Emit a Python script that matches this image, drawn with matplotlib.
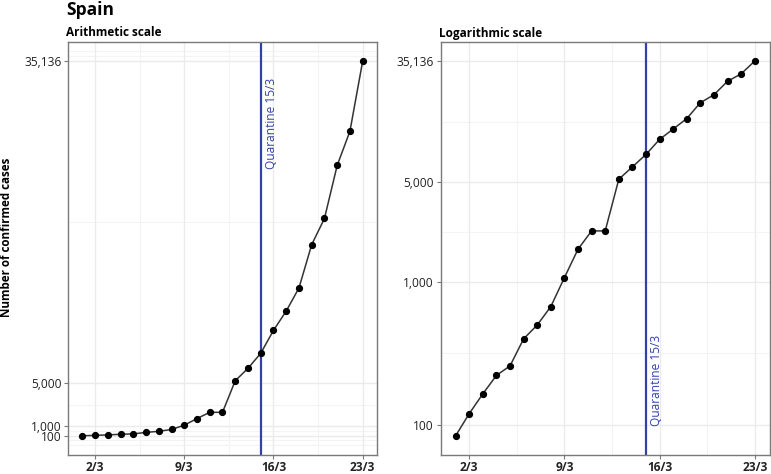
import matplotlib
matplotlib.use("Agg")
import matplotlib.pyplot as plt
import numpy as np

# ---- data ----
days = list(range(1, 24))  # 1/3 .. 23/3
cases = [84, 120, 165, 222, 259, 400, 500, 673, 1073, 1695, 2277, 2277,
         5232, 6391, 7798, 9942, 11748, 13910, 17963, 20410, 25374, 28572, 35136]
x_ticks = [2, 9, 16, 23]
x_ticklabels = ["2/3", "9/3", "16/3", "23/3"]
y_ticks = [100, 1000, 5000, 35136]
y_ticklabels = ["100", "1,000", "5,000", "35,136"]
quarantine_day = 15
quarantine_label = "Quarantine 15/3"

plt.rcParams['font.family'] = ['Open Sans', 'DejaVu Sans']

W, H = 771, 474
fig = plt.figure(figsize=(W / 100, H / 100), dpi=100)

def px_axes(l, t, r, b):
    return fig.add_axes([l / W, 1 - b / H, (r - l) / W, (b - t) / H])

BLUE = '#3340a8'
GRID = '#ebebeb'
GRID_MINOR = '#f4f4f4'
BORDER = '#7a7a7a'

def style(ax):
    for s in ax.spines.values():
        s.set_color(BORDER)
        s.set_linewidth(1.0)
    ax.tick_params(axis='both', length=3, width=0.8, color=BORDER,
                   labelcolor='#222222', pad=2)
    ax.tick_params(axis='y', labelsize=8.6)
    ax.tick_params(axis='x', labelsize=8.6, pad=1.5)
    for lab in ax.get_xticklabels():
        lab.set_fontweight('bold')
    ax.set_axisbelow(True)

xr = (min(days), max(days))
xpad = 0.05 * (xr[1] - xr[0])
xlim = (xr[0] - xpad, xr[1] + xpad)
x_minor = [5.5, 12.5, 19.5]

# ---- arithmetic panel ----
ax1 = px_axes(68.3, 42.3, 376.7, 454.5)
yr = (min(cases), max(cases))
ypad = 0.05 * (yr[1] - yr[0])
ax1.set_xlim(*xlim)
ax1.set_ylim(yr[0] - ypad, yr[1] + ypad)
bd = y_ticks[1] - y_ticks[0]
ext = [y_ticks[0] - bd] + y_ticks + [y_ticks[-1] + bd]
minor_y1 = ext + [(a + b) / 2 for a, b in zip(ext[:-1], ext[1:])]
for v in minor_y1:
    ax1.axhline(v, color=GRID_MINOR, lw=0.8, zorder=0)
for v in x_minor:
    ax1.axvline(v, color=GRID_MINOR, lw=0.8, zorder=0)
for v in y_ticks:
    ax1.axhline(v, color=GRID, lw=1.0, zorder=0)
for v in x_ticks:
    ax1.axvline(v, color=GRID, lw=1.0, zorder=0)
ax1.plot(days, cases, color='#333333', lw=1.1, marker='o', ms=4.2,
         mfc='black', mec='black', zorder=3)
ax1.axvline(quarantine_day, color=BLUE, lw=1.6, zorder=2)
ax1.text(quarantine_day + 0.87, 33600, quarantine_label, rotation=90,
         ha='center', va='top', color=BLUE, fontsize=8.6)
ax1.set_xticks(x_ticks)
ax1.set_xticklabels(x_ticklabels)
ax1.set_yticks(y_ticks)
ax1.set_yticklabels(y_ticklabels)
style(ax1)

# ---- logarithmic panel ----
ax2 = px_axes(440.7, 42.3, 769.7, 454.5)
ax2.set_yscale('log')
lo, hi = np.log10(min(cases)), np.log10(max(cases))
lpad = 0.05 * (hi - lo)
ax2.set_xlim(*xlim)
ax2.set_ylim(10 ** (lo - lpad), 10 ** (hi + lpad))
lt = list(np.log10(y_ticks))
lext = [lt[0] - (lt[1] - lt[0])] + lt + [lt[-1] + (lt[1] - lt[0])]
minor_y2 = [10 ** ((a + b) / 2) for a, b in zip(lext[:-1], lext[1:])]
for v in minor_y2:
    ax2.axhline(v, color=GRID_MINOR, lw=0.8, zorder=0)
for v in x_minor:
    ax2.axvline(v, color=GRID_MINOR, lw=0.8, zorder=0)
for v in y_ticks:
    ax2.axhline(v, color=GRID, lw=1.0, zorder=0)
for v in x_ticks:
    ax2.axvline(v, color=GRID, lw=1.0, zorder=0)
ax2.plot(days, cases, color='#333333', lw=1.1, marker='o', ms=4.2,
         mfc='black', mec='black', zorder=3)
ax2.axvline(quarantine_day, color=BLUE, lw=1.6, zorder=2)
ax2.text(quarantine_day + 0.75, 99, quarantine_label, rotation=90,
         ha='center', va='bottom', color=BLUE, fontsize=8.6)
ax2.set_xticks(x_ticks)
ax2.set_xticklabels(x_ticklabels)
ax2.set_yticks(y_ticks)
ax2.set_yticklabels(y_ticklabels)
ax2.yaxis.set_minor_locator(matplotlib.ticker.NullLocator())
style(ax2)

# ---- titles ----
fig.text(66 / W, 1 - 10 / H, "Spain", fontsize=12.5, fontweight='bold',
         ha='left', va='center')
fig.text(66 / W, 1 - 33 / H, "Arithmetic scale", fontsize=8.5, fontweight='bold',
         ha='left', va='center')
fig.text(439 / W, 1 - 33 / H, "Logarithmic scale", fontsize=8.5, fontweight='bold',
         ha='left', va='center')
fig.text(6.5 / W, 1 - 237.5 / H, "Number of confirmed cases", fontsize=8.4,
         fontweight='bold', rotation=90, ha='center', va='center')

fig.savefig("out.png", dpi=100)
